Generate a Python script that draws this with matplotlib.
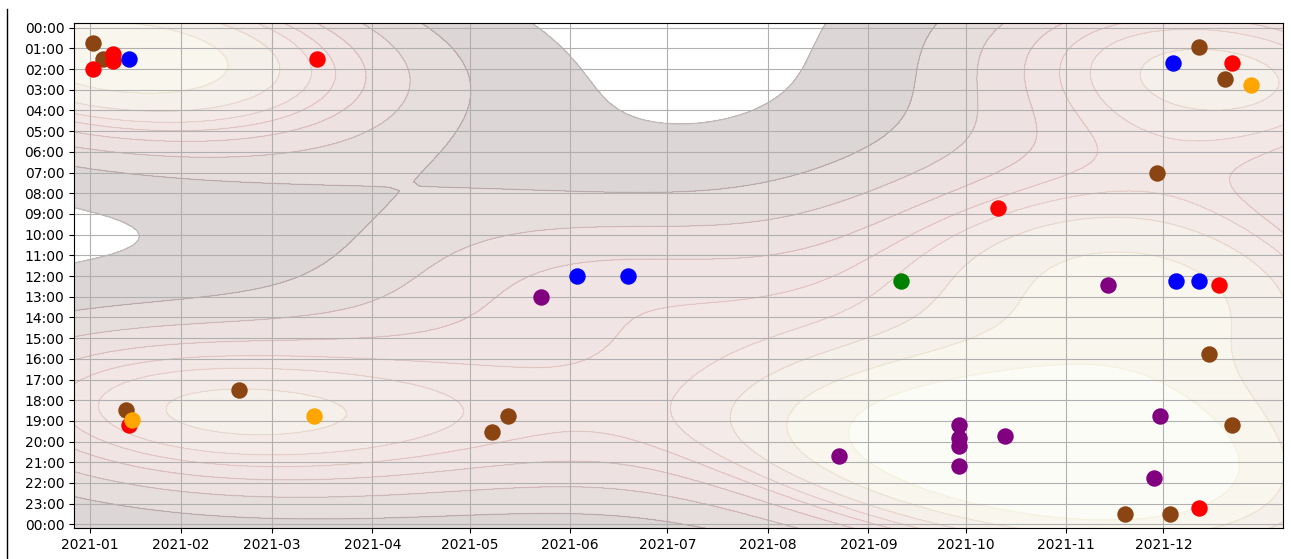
import datetime as dt

import matplotlib
matplotlib.use("Agg")
import matplotlib.pyplot as plt
import matplotlib.dates as mdates
from matplotlib.lines import Line2D
import numpy as np
import seaborn as sns

# data: date of event, hour of day, colour group
brown_dates = ['2021-01-05', '2021-01-08', '2021-01-15', '2021-02-19', '2021-05-08',
               '2021-05-13', '2021-11-19', '2021-11-29', '2021-12-03', '2021-12-12',
               '2021-12-15', '2021-12-20', '2021-12-22']
brown_hours = [0.75, 1.5, 18.45, 17.5, 19.55, 18.75, 23.5, 7.0, 23.5, 0.95, 15.75, 2.5, 19.2]

red_dates = ['2021-01-05', '2021-01-11', '2021-01-11', '2021-01-16', '2021-03-15',
             '2021-10-11', '2021-12-12', '2021-12-18', '2021-12-22']
red_hours = [2.0, 1.25, 1.6, 19.2, 1.5, 8.7, 23.2, 12.45, 1.7]

blue_dates = ['2021-01-16', '2021-06-03', '2021-06-19', '2021-12-04', '2021-12-05', '2021-12-12']
blue_hours = [1.5, 12.0, 12.0, 1.7, 12.25, 12.25]

orange_dates = ['2021-01-17', '2021-03-14', '2021-12-28']
orange_hours = [18.95, 18.75, 2.75]

green_dates = ['2021-09-11']
green_hours = [12.25]

purple_dates = ['2021-05-23', '2021-08-23', '2021-09-29', '2021-09-29', '2021-09-29',
                '2021-09-29', '2021-10-13', '2021-11-14', '2021-11-28', '2021-11-30']
purple_hours = [13.0, 20.7, 19.2, 19.85, 20.2, 21.2, 19.75, 12.45, 21.75, 18.75]

# x ticks as shown: first one sits a few days into January
tick_dates = ['2021-01-04', '2021-02-01', '2021-03-01', '2021-04-01', '2021-05-01', '2021-06-01',
              '2021-07-01', '2021-08-01', '2021-09-01', '2021-10-01', '2021-11-01', '2021-12-01']
tick_labels = ['2021-01', '2021-02', '2021-03', '2021-04', '2021-05', '2021-06',
               '2021-07', '2021-08', '2021-09', '2021-10', '2021-11', '2021-12']

groups = [
    (brown_dates, brown_hours, '#8b4513'),
    (red_dates, red_hours, 'red'),
    (blue_dates, blue_hours, 'blue'),
    (orange_dates, orange_hours, 'orange'),
    (green_dates, green_hours, 'green'),
    (purple_dates, purple_hours, 'purple'),
]


def to_num(dates):
    return mdates.date2num([dt.datetime.strptime(d, '%Y-%m-%d') for d in dates])


all_x = np.concatenate([to_num(d) for d, h, c in groups])
all_y = np.concatenate([h for d, h, c in groups])

fig = plt.figure(figsize=(12.91, 5.59), dpi=100)
ax = fig.add_axes([0.0573, 0.0549, 0.9363, 0.9034])

# density background
bw = 0.8
sns.kdeplot(x=all_x, y=all_y, fill=True, cmap='pink', alpha=0.2, bw_adjust=bw, ax=ax, zorder=0)
sns.kdeplot(x=all_x, y=all_y, cmap='pink', alpha=0.15, bw_adjust=bw, linewidths=1, ax=ax, zorder=0.5)

for dates, hours, color in groups:
    ax.scatter(to_num(dates), hours, s=140, color=color, zorder=3, linewidths=0)

start = mdates.date2num(dt.datetime(2021, 1, 1))
ax.set_xlim(start - 2.0, start + 370.8)
ax.set_ylim(24.19, -0.21)

ax.set_xticks(to_num(tick_dates))
ax.set_xticklabels(tick_labels)
ax.set_yticks(range(25))
ax.set_yticklabels([f"{h % 24:02d}:00" for h in range(25)])
ax.set_xlabel('')
ax.set_ylabel('')
ax.grid(True)
ax.tick_params(labelsize=10)

# cell border seen at the left of the screenshot
fig.add_artist(Line2D([6.5 / 1291, 6.5 / 1291], [0, 1 - 9 / 559],
                      transform=fig.transFigure, color='black', lw=1))

fig.savefig('out.png', dpi=100)
